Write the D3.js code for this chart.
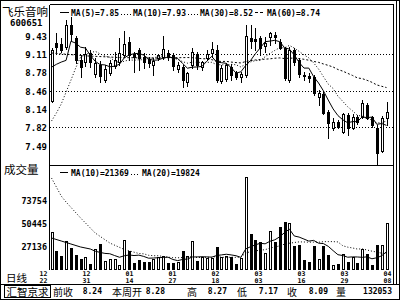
<!DOCTYPE html>
<html>
<head>
<meta charset="utf-8">
<script src="https://cdn.jsdelivr.net/npm/d3@7"></script>
<style>
  body { margin: 0; background: #fff; }
  svg { display: block; }
  .num { font-family: "DejaVu Sans Mono", monospace; font-weight: bold; fill: #000; }
  .cjk { font-family: "Noto Sans CJK SC", sans-serif; fill: #000; }
</style>
</head>
<body>
<svg id="chart" width="400" height="300"></svg>
<script>
// 일봉 데이터
const open = [8.28, 9.31, 9.29, 9.24, 9.62, 9.40, 9.00, 8.97, 9.13, 8.76,
    8.92, 8.65, 8.78, 8.90, 8.97, 9.10, 9.32, 9.11, 9.18, 9.06,
    9.02, 8.92, 9.04, 9.06, 9.13, 9.10, 8.85, 8.88, 8.62, 8.92,
    9.11, 8.88, 9.05, 9.13, 9.18, 8.64, 8.68, 8.89, 8.78, 8.71,
    8.74, 9.40, 9.37, 9.40, 9.26, 9.41, 9.45, 9.33, 9.22, 8.66,
    9.18, 9.01, 8.75, 8.73, 8.71, 8.36, 8.40, 8.09, 7.81, 7.91,
    7.74, 8.04, 7.81, 8.00, 8.00, 8.21, 8.00, 7.81, 7.40, 7.98];
const high = [9.22, 9.48, 9.40, 9.71, 9.76, 9.43, 9.10, 9.24, 9.18, 9.04,
    8.99, 8.92, 9.00, 9.15, 9.40, 9.52, 9.41, 9.15, 9.22, 9.13,
    9.06, 9.04, 9.12, 9.43, 9.18, 9.13, 8.97, 8.92, 8.80, 9.22,
    9.15, 8.99, 9.18, 9.32, 9.27, 8.92, 8.96, 8.94, 8.82, 8.80,
    9.62, 9.62, 9.57, 9.43, 9.41, 9.50, 9.50, 9.38, 9.24, 9.24,
    9.22, 9.05, 8.80, 8.78, 8.74, 8.48, 8.45, 8.12, 7.98, 7.95,
    8.07, 8.07, 8.05, 8.03, 8.30, 8.25, 8.02, 7.86, 8.02, 8.26];
const low = [8.26, 9.15, 9.15, 9.20, 9.36, 8.95, 8.71, 8.90, 8.88, 8.70,
    8.62, 8.62, 8.74, 8.87, 8.92, 9.06, 9.00, 8.80, 8.83, 8.87,
    8.88, 8.74, 9.00, 9.02, 9.00, 8.83, 8.80, 8.53, 8.55, 8.87,
    8.85, 8.83, 9.00, 9.06, 8.62, 8.60, 8.64, 8.66, 8.67, 8.62,
    8.70, 9.22, 9.18, 9.10, 9.15, 9.27, 9.31, 9.20, 8.65, 8.62,
    8.92, 8.70, 8.65, 8.62, 8.39, 8.21, 8.05, 7.63, 7.77, 7.80,
    7.72, 7.68, 7.79, 7.87, 7.98, 7.96, 7.82, 7.17, 7.38, 7.86];
const close = [9.18, 9.24, 9.18, 9.62, 9.47, 9.01, 8.88, 9.11, 8.97, 8.95,
    8.72, 8.85, 8.95, 9.01, 9.13, 9.29, 9.10, 9.06, 9.04, 8.97,
    8.95, 8.99, 9.09, 9.20, 9.06, 8.90, 8.92, 8.65, 8.78, 9.15,
    8.92, 8.97, 9.11, 9.20, 8.65, 8.87, 8.91, 8.74, 8.71, 8.76,
    9.43, 9.35, 9.34, 9.22, 9.31, 9.48, 9.42, 9.22, 8.69, 9.18,
    8.97, 8.76, 8.72, 8.69, 8.42, 8.42, 8.07, 7.90, 7.91, 7.83,
    8.05, 7.81, 8.00, 7.91, 8.25, 7.98, 7.86, 7.36, 7.98, 8.09];
const volume = [41000, 22400, 17000, 32500, 24800, 18000, 14000, 16300, 8600, 24100,
    29200, 12000, 13700, 14000, 7600, 33200, 22100, 10200, 12700, 11200,
    11200, 14000, 16300, 17300, 10200, 9600, 10600, 22100, 17000, 31900,
    12000, 15700, 14700, 14700, 26400, 16300, 17000, 15700, 8600, 15300,
    96800, 39000, 33200, 31200, 20400, 42350, 31500, 46100, 51500, 50150,
    27450, 28150, 13000, 10650, 27450, 14300, 27450, 18050, 7900, 8900,
    19050, 11250, 16300, 9600, 24100, 19050, 7900, 28150, 27850, 50150];

// 화면 왼쪽 이전 데이터로 계산된 이동평균 앞부분 [봉 번호, 값]
const ma5Lead = [[0, 8.88], [1, 8.93], [2, 8.97], [3, 9.00]];
const ma10Lead = [[0, 7.93], [1, 8.07], [2, 8.23], [3, 8.44], [4, 8.65], [5, 8.87], [6, 9.06], [7, 9.11], [8, 9.13]];
const ma30Lead = [[0, 9.13], [7, 9.08], [14, 9.05], [21, 9.04], [28, 9.05]];
const volMa10Lead = [[0, 35260], [2, 32220], [4, 29180], [6, 26140], [8, 24110]];
const volMa20Lead = [[0, 96050], [2, 77810], [3, 71730], [6, 55520], [9, 40320], [12, 30190], [15, 23610], [18, 19550]];

const dateLabels = ["12/22", "12/31", "01/14", "01/27", "02/18", "03/03", "03/16", "03/29", "04/08"];
const priceTicks = [9.43, 9.11, 8.78, 8.46, 8.14, 7.82, 7.49];
const priceGrid = [9.11, 8.46, 7.82];
const volTicks = [73754, 50445, 27136];
const priceLegend = ["MA(5)=7.85", "MA(10)=7.93", "MA(30)=8.52", "MA(60)=8.74"];
const volLegend = ["MA(10)=21369", "MA(20)=19824"];
const statusLabels = ["前收", "本周开", "高", "低", "收", "量"];
const statusValues = ["8.24", "8.28", "8.27", "7.17", "8.09", "132053"];

const svg = d3.select("#chart");
const L = 49.5, R = 393.5, TOP = 4.5, MID = 165.5, VBOT = 270;

const x = d3.scaleLinear().domain([0, close.length - 1]).range([51.5, 386.5]);
const yP = d3.scaleLinear().domain([7.49, 9.43]).range([146, 36]);
const yV = d3.scaleLinear().domain([0, 73754]).range([272.8, 200]);
const xDate = d3.scalePoint().domain(dateLabels).range([43.5, 387.5]);

const px = v => Math.round(v) + 0.5;

function seg(x1, y1, x2, y2, dash) {
    svg.append("line")
        .attr("x1", x1).attr("y1", y1).attr("x2", x2).attr("y2", y2)
        .attr("stroke", "#000").attr("stroke-width", 1)
        .attr("stroke-dasharray", dash || null)
        .attr("shape-rendering", "crispEdges");
}

// 테두리
svg.append("rect").attr("x", 0.5).attr("y", 0.5).attr("width", 399).attr("height", 299)
    .attr("fill", "none").attr("stroke", "#000").attr("shape-rendering", "crispEdges");
seg(396.5, 0, 396.5, 284);
seg(L, TOP, R, TOP);
seg(L, TOP, L, VBOT);
seg(R, TOP, R, 284);
seg(L, MID, R, MID);
seg(0, 284.5, 400, 284.5);

// 클립 영역
const defs = svg.append("defs");
defs.append("clipPath").attr("id", "clipP").append("rect")
    .attr("x", 50).attr("y", 5).attr("width", 343).attr("height", 160);
defs.append("clipPath").attr("id", "clipV").append("rect")
    .attr("x", 50).attr("y", 166).attr("width", 343).attr("height", 104);

// 가격 격자선
priceGrid.forEach(v => seg(50, px(yP(v)), R, px(yP(v)), "1,2"));

// 가격 눈금
svg.selectAll(".ptick").data(priceTicks).join("text")
    .attr("class", "num ptick")
    .attr("x", 47).attr("y", d => yP(d) + 3.5)
    .attr("text-anchor", "end").attr("font-size", 9)
    .text(d => d.toFixed(2));

// 캔들
const gP = svg.append("g").attr("clip-path", "url(#clipP)");
const idx = d3.range(close.length);
gP.selectAll(".wick").data(idx).join("line")
    .attr("x1", i => Math.round(x(i)) + 0.5).attr("x2", i => Math.round(x(i)) + 0.5)
    .attr("y1", i => Math.round(yP(high[i]))).attr("y2", i => Math.round(yP(low[i])) + 1)
    .attr("stroke", "#000").attr("shape-rendering", "crispEdges");
gP.selectAll(".body").data(idx).join("rect")
    .attr("x", i => Math.round(x(i)) - 0.5)
    .attr("y", i => px(yP(Math.max(open[i], close[i]))))
    .attr("width", 2)
    .attr("height", i => Math.max(0, px(yP(Math.min(open[i], close[i]))) - px(yP(Math.max(open[i], close[i])))))
    .attr("fill", i => close[i] >= open[i] ? "#fff" : "#000")
    .attr("stroke", "#000").attr("shape-rendering", "crispEdges");

// 이동평균 (MA60 은 그림에 선이 없어 범례만 표시)
function movingAvg(values, n, lead) {
    const pts = lead.map(([i, v]) => ({i, v}));
    for (let i = n - 1; i < values.length; i++) {
        pts.push({i, v: d3.mean(values.slice(i - n + 1, i + 1))});
    }
    return pts;
}
const lineP = d3.line().x(d => x(d.i)).y(d => yP(d.v));
const lineV = d3.line().x(d => x(d.i)).y(d => yV(d.v));
[[movingAvg(close, 5, ma5Lead), null],
 [movingAvg(close, 10, ma10Lead), "1,2"],
 [movingAvg(close, 30, ma30Lead), "2,2"]].forEach(([pts, dash]) => {
    gP.append("path").attr("d", lineP(pts)).attr("fill", "none")
        .attr("stroke", "#000").attr("stroke-width", 1)
        .attr("stroke-dasharray", dash);
});

// 가격 범례
svg.append("text").attr("class", "cjk").attr("x", 2).attr("y", 15.5).attr("font-size", 11.5).text("飞乐音响");
svg.append("text").attr("class", "num").attr("x", 10).attr("y", 25.5).attr("font-size", 9).text("600651");
const legX = [71, 133, 200, 267];
const legDash = [null, "1,2", "1,2", "3,2"];
priceLegend.forEach((t, k) => {
    svg.append("text").attr("class", "num").attr("x", legX[k]).attr("y", 15.5).attr("font-size", 8).text(t);
    const sy = (k === 0 || k === 3) ? 12.5 : 14.5;
    const sx = k === 0 ? 60 : legX[k] - 12;
    seg(sx, sy, legX[k] - 2, sy, legDash[k]);
});

// 거래량
const gV = svg.append("g").attr("clip-path", "url(#clipV)");
gV.selectAll(".vbar").data(idx).join("rect")
    .attr("x", i => Math.round(x(i)) - 0.5)
    .attr("y", i => px(yV(volume[i])))
    .attr("width", 2)
    .attr("height", i => VBOT - 0.5 - px(yV(volume[i])))
    .attr("fill", i => close[i] >= open[i] ? "#fff" : "#000")
    .attr("stroke", "#000").attr("shape-rendering", "crispEdges");
[[movingAvg(volume, 10, volMa10Lead), null],
 [movingAvg(volume, 20, volMa20Lead), "1,2"]].forEach(([pts, dash]) => {
    gV.append("path").attr("d", lineV(pts)).attr("fill", "none")
        .attr("stroke", "#000").attr("stroke-width", 1)
        .attr("stroke-dasharray", dash);
});

svg.selectAll(".vtick").data(volTicks).join("text")
    .attr("class", "num vtick")
    .attr("x", 47).attr("y", d => yV(d) + 3.5)
    .attr("text-anchor", "end").attr("font-size", 8.5)
    .text(d => d);

svg.append("text").attr("class", "cjk").attr("x", 4).attr("y", 173.5).attr("font-size", 11.5).text("成交量");
seg(60, 172.5, 68, 172.5);
svg.append("text").attr("class", "num").attr("x", 71).attr("y", 175.5).attr("font-size", 8).text(volLegend[0]);
seg(131, 174.5, 140, 174.5, "1,2");
svg.append("text").attr("class", "num").attr("x", 142).attr("y", 175.5).attr("font-size", 8).text(volLegend[1]);

// 날짜 축
svg.selectAll(".dm").data(dateLabels).join("text")
    .attr("class", "num dm")
    .attr("x", d => xDate(d)).attr("y", 275.5)
    .attr("text-anchor", "middle").attr("font-size", 6.5)
    .text(d => d.split("/")[0]);
svg.selectAll(".dd").data(dateLabels).join("text")
    .attr("class", "num dd")
    .attr("x", d => xDate(d)).attr("y", 283)
    .attr("text-anchor", "middle").attr("font-size", 6.5)
    .text(d => d.split("/")[1]);
svg.append("text").attr("class", "cjk").attr("x", 6).attr("y", 281.5).attr("font-size", 10.5).text("日线");

// 하단 상태줄
svg.append("rect").attr("x", 4.5).attr("y", 285.5).attr("width", 46).attr("height", 11.5)
    .attr("fill", "none").attr("stroke", "#000").attr("shape-rendering", "crispEdges");
svg.append("text").attr("class", "cjk").attr("x", 6.5).attr("y", 295.5).attr("font-size", 10.5).text("汇智京求");
const labX = [53, 112, 187, 237, 287, 336];
const valX = [102, 165, 227, 278, 328, 392];
statusLabels.forEach((t, k) => {
    svg.append("text").attr("class", "cjk").attr("x", labX[k]).attr("y", 295.5).attr("font-size", 10).text(t);
    svg.append("text").attr("class", "num").attr("x", valX[k]).attr("y", 294)
        .attr("text-anchor", "end").attr("font-size", 8).text(statusValues[k]);
});
</script>
</body>
</html>
